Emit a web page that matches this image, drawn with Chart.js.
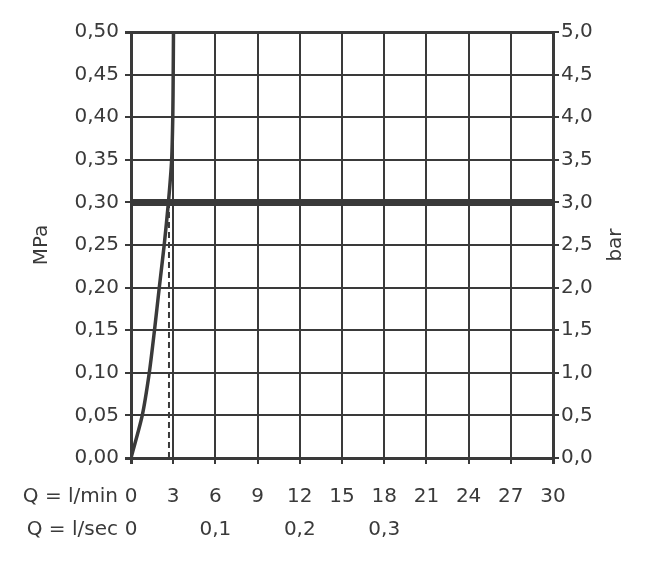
<!DOCTYPE html>
<html>
<head>
<meta charset="utf-8">
<script src="https://cdn.jsdelivr.net/npm/chart.js@4/dist/chart.umd.min.js"></script>
<style>
  html, body { margin: 0; padding: 0; background: #ffffff; }
  #wrap { width: 654px; height: 568px; }
</style>
</head>
<body>
<div id="wrap"><canvas id="c" width="654" height="568"></canvas></div>
<script>
// ---- data ----
const curveFlowLpm   = [0, 0.80, 1.30, 1.67, 2.01, 2.36, 2.66, 2.89, 2.97, 3.00, 3.02];
const curvePressMPa  = [0, 0.05, 0.10, 0.15, 0.20, 0.25, 0.30, 0.35, 0.40, 0.45, 0.50];
const setPressureMPa = 0.30;
const setFlowLpm     = 2.7;
const xTicksLpm      = [0, 3, 6, 9, 12, 15, 18, 21, 24, 27, 30];
const xTicksLps      = [0, 0.1, 0.2, 0.3];
const yTicksMPa      = [0, 0.05, 0.10, 0.15, 0.20, 0.25, 0.30, 0.35, 0.40, 0.45, 0.50];
const yTicksBar      = [0, 0.5, 1.0, 1.5, 2.0, 2.5, 3.0, 3.5, 4.0, 4.5, 5.0];
const rowLabels      = ['Q = l/min', 'Q = l/sec'];
const leftTitle      = 'MPa';
const rightTitle     = 'bar';

const INK = '#3a3a3a';
const FONT = 'DejaVu Sans';

const comma = (v, d) => v.toFixed(d).replace('.', ',');

const curvePts = curveFlowLpm.map((x, i) => ({ x, y: curvePressMPa[i] }));
const setLine  = [{ x: xTicksLpm[0], y: setPressureMPa }, { x: xTicksLpm[xTicksLpm.length - 1], y: setPressureMPa }];
const dashLine = [{ x: setFlowLpm, y: 0 }, { x: setFlowLpm, y: setPressureMPa }];

const extraText = {
  id: 'extraText',
  afterDraw(chart) {
    const ctx = chart.ctx;
    const ca = chart.chartArea;
    ctx.save();
    ctx.fillStyle = INK;
    ctx.font = '20px "' + FONT + '"';
    ctx.textAlign = 'right';
    ctx.textBaseline = 'middle';
    ctx.fillText(rowLabels[0], ca.left - 13, ca.bottom + 39);
    ctx.fillText(rowLabels[1], ca.left - 13, ca.bottom + 72);
    // right axis title, reading upward
    ctx.translate(ca.right + 63, (ca.top + ca.bottom) / 2);
    ctx.rotate(-Math.PI / 2);
    ctx.textAlign = 'center';
    ctx.fillText(rightTitle, 0, 0);
    ctx.restore();
  }
};

const edgeWidth = (ctx, n) => (ctx.index === 0 || ctx.index === n - 1) ? 3 : 2;

new Chart(document.getElementById('c'), {
  type: 'scatter',
  data: {
    datasets: [
      { data: setLine, showLine: true, borderColor: INK, borderWidth: 7, pointRadius: 0, borderCapStyle: 'butt' },
      { data: dashLine, showLine: true, borderColor: INK, borderWidth: 2, borderDash: [6, 4], pointRadius: 0 },
      { data: curvePts, showLine: true, borderColor: INK, borderWidth: 3.5, pointRadius: 0, tension: 0.25 }
    ]
  },
  options: {
    responsive: false,
    animation: false,
    devicePixelRatio: 1,
    layout: { padding: { top: 32, left: 0, right: 0, bottom: 0 } },
    plugins: { legend: { display: false }, tooltip: { enabled: false } },
    scales: {
      x: {
        type: 'linear', position: 'bottom', weight: 0,
        min: 0, max: 30,
        afterBuildTicks: s => { s.ticks = xTicksLpm.map(v => ({ value: v })); },
        afterFit: s => { s.height = 52; },
        ticks: { color: INK, font: { family: FONT, size: 20 }, padding: 21, maxRotation: 0, autoSkip: false,
                 callback: v => String(v) },
        grid: { color: INK, lineWidth: c => edgeWidth(c, xTicksLpm.length), tickLength: 6 },
        border: { color: INK, width: 3 }
      },
      x2: {
        type: 'linear', position: 'bottom', weight: 1,
        min: 0, max: 30,
        afterBuildTicks: s => { s.ticks = xTicksLps.map(v => ({ value: v * 60 })); },
        afterFit: s => { s.height = 58; },
        ticks: { color: INK, font: { family: FONT, size: 20 }, padding: 8, maxRotation: 0, autoSkip: false,
                 callback: v => { const q = v / 60; return q === 0 ? '0' : comma(q, 1); } },
        grid: { display: false, drawTicks: false },
        border: { display: false }
      },
      y: {
        type: 'linear', position: 'left',
        min: 0, max: 0.5,
        afterBuildTicks: s => { s.ticks = yTicksMPa.map(v => ({ value: v })); },
        afterFit: s => { s.width = 131; },
        ticks: { color: INK, font: { family: FONT, size: 20 }, padding: 6, callback: v => comma(v, 2) },
        grid: { color: INK, lineWidth: c => edgeWidth(c, yTicksMPa.length), tickLength: 6 },
        border: { color: INK, width: 3 },
        title: { display: true, text: leftTitle, color: INK, font: { family: FONT, size: 20 }, padding: { top: 30, bottom: 0 } }
      },
      y2: {
        type: 'linear', position: 'right',
        min: 0, max: 5,
        afterBuildTicks: s => { s.ticks = yTicksBar.map(v => ({ value: v })); },
        afterFit: s => { s.width = 101; },
        ticks: { color: INK, font: { family: FONT, size: 20 }, padding: 2, callback: v => comma(v, 1) },
        grid: { color: INK, lineWidth: 2, drawOnChartArea: false, tickLength: 6 },
        border: { color: INK, width: 3 }
      }
    }
  },
  plugins: [extraText]
});
</script>
</body>
</html>
